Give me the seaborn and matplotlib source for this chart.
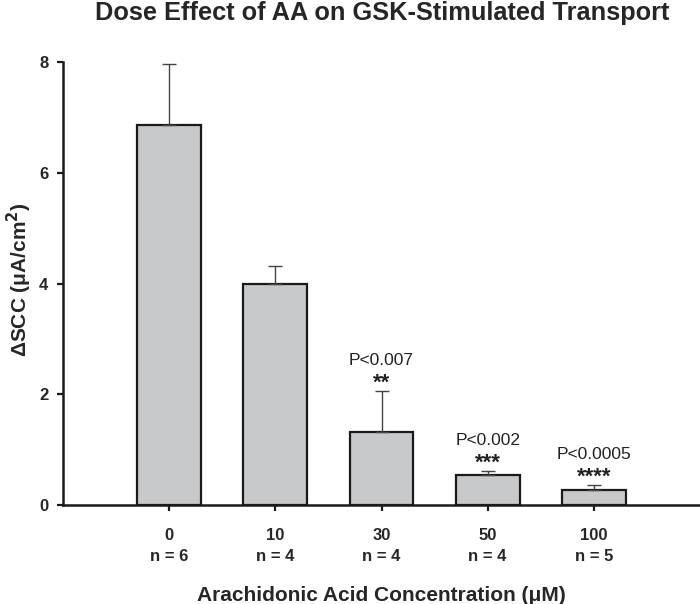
import matplotlib
matplotlib.use("Agg")
import matplotlib.pyplot as plt
import seaborn as sns
import numpy as np
import pandas as pd

concentrations = ["0", "10", "30", "50", "100"]
n_values = ["n = 6", "n = 4", "n = 4", "n = 4", "n = 5"]
means = [6.86, 4.00, 1.33, 0.54, 0.27]
errors = [1.10, 0.32, 0.74, 0.08, 0.10]
p_labels = ["", "", "P<0.007", "P<0.002", "P<0.0005"]
stars = ["", "", "**", "***", "****"]
tick_labels = [f"{c}\n{n}" for c, n in zip(concentrations, n_values)]

sns.set_theme(style="white")
plt.rcParams['font.family'] = ['Liberation Sans', 'DejaVu Sans']

df = pd.DataFrame({"conc": tick_labels, "mean": means})

fig = plt.figure(figsize=(7, 6.04), dpi=100)
ax = fig.add_axes([0.09, 0.1635, 0.91, 0.7335])

sns.barplot(data=df, x="conc", y="mean", ax=ax, color="#c8c9cb",
            edgecolor="#1a1a1a", linewidth=1.6, width=0.6, saturation=1)
xs = np.arange(len(means))
ax.errorbar(xs, means, yerr=[np.zeros(len(errors)), errors], fmt="none",
            ecolor="#444444", elinewidth=1.0, capsize=4.7, capthick=1.0, zorder=1)

ax.set_ylim(0, 8)
ax.set_xlim(-1.0, 5.0)
ax.set_yticks([0, 2, 4, 6, 8])
ax.set_yticklabels(["0", "2", "4", "6", "8"], fontweight="bold", fontsize=12)
ax.set_xticks(xs)
ax.set_xticklabels(tick_labels, fontweight="bold", fontsize=12, linespacing=1.5)
for sp in ["top", "right"]:
    ax.spines[sp].set_visible(False)
for sp in ["left", "bottom"]:
    ax.spines[sp].set_color("#1a1a1a")
    ax.spines[sp].set_linewidth(1.8)
ax.tick_params(axis="both", direction="out", length=4.5, width=1.6, color="#1a1a1a",
               bottom=True, left=True)
ax.tick_params(axis="y", pad=6)
ax.tick_params(axis="x", pad=12)

for i in range(len(means)):
    if stars[i]:
        top = means[i] + errors[i]
        ax.text(xs[i], top + 0.04, stars[i], ha="center", va="baseline",
                fontsize=16, fontweight="bold", color="#222222")
        ax.text(xs[i], top + 0.55, p_labels[i], ha="center", va="center",
                fontsize=12.5, color="#222222")

ax.set_ylabel("ΔSCC (μA/cm$^{\\mathbf{2}}$)", fontsize=15, fontweight="bold")
ax.yaxis.set_label_coords(-0.045, 0.51)
ax.set_xlabel("Arachidonic Acid Concentration (μM)", fontsize=15, fontweight="bold", labelpad=16)
fig.text(0.546, 0.998, "Dose Effect of AA on GSK-Stimulated Transport", fontsize=18.3,
         fontweight="bold", ha="center", va="top")

fig.savefig("out.png", dpi=100)
